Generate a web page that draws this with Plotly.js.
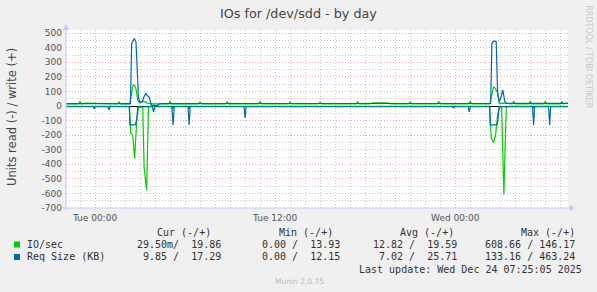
<!DOCTYPE html>
<html>
<head>
<meta charset="utf-8">
<script src="https://cdn.plot.ly/plotly-3.0.1.min.js"></script>
<style>
  html, body { margin: 0; padding: 0; background: #F0F0F0; }
  #chart { width: 597px; height: 292px; }
</style>
</head>
<body>
<div id="chart"></div>
<script>
// ---- Data (hours relative to Tue 2025-12-23 00:00, value) ----
const baseDate = Date.UTC(2025, 11, 23, 0, 0, 0);

const ioWrite = [ // IO/sec write (+), green
  [-1.93,15],[-1.1,15],[-1.0,30],[-0.9,15],[-0.6,20],[-0.1,20],[0.1,15],[1.5,15],[1.6,28],[1.7,15],
  [2.3,15],[2.38,50],[2.5,130],[2.58,146],[2.66,135],[2.75,110],[2.84,40],[3.0,20],[3.1,30],[3.35,30],
  [3.5,20],[3.8,15],[4.9,15],[5.0,32],[5.1,15],[6.9,15],[7.0,28],[7.1,15],[8.7,15],[8.8,28],[8.9,15],
  [10.9,15],[11.0,30],[11.1,15],[12.9,15],[13.0,28],[13.1,15],[14.9,15],[15.0,26],[15.1,15],
  [17.4,15],[17.5,28],[17.6,15],[18.3,15],[18.5,22],[19.5,22],[19.7,15],[20.9,15],[21.0,28],[21.1,15],
  [22.8,15],[22.9,30],[23.0,15],[24.9,15],[25.0,32],[25.1,15],[26.3,15],[26.4,60],[26.55,132],[26.62,128],
  [26.8,98],[26.93,15],[27.1,20],[27.8,15],[27.9,30],[28.0,15],[28.9,15],[29.0,30],[29.1,15],
  [29.9,15],[30.0,30],[30.1,15],[31.0,15],[31.1,30],[31.2,15],[31.51,20]
];

const ioRead = [ // IO/sec read (-), green
  [-1.93,-2],[2.29,-2],[2.38,-185],[2.51,-200],[2.64,-358],[2.78,-100],[2.89,-8],[3.18,-8],[3.27,-418],
  [3.44,-578],[3.56,-8],[3.7,-2],[5.1,-2],[5.2,-22],[5.3,-2],[6.2,-2],[6.27,-18],[6.35,-2],
  [26.29,-2],[26.4,-221],[26.56,-250],[26.69,-199],[26.82,-60],[26.96,-5],[27.09,-5],[27.24,-608],
  [27.4,-8],[27.6,-2],[29.15,-2],[29.22,-12],[29.3,-2],[31.51,-2]
];

const reqWrite = [ // Req Size (KB) write (+), blue
  [-1.93,16],[0.0,16],[1.0,17],[2.36,17],[2.44,430],[2.55,455],[2.62,463],[2.73,440],[2.89,64],
  [2.97,30],[3.15,28],[3.25,60],[3.38,87],[3.5,70],[3.62,60],[3.75,5],[4.2,5],[4.3,17],
  [12.0,17],[20.0,18],[26.36,18],[26.44,429],[26.55,445],[26.73,443],[26.82,98],[26.93,30],
  [27.05,60],[27.17,110],[27.3,30],[27.45,18],[31.51,18]
];

const reqRead = [ // Req Size (KB) read (-), blue
  [-1.93,-5],[-0.12,-5],[-0.05,-18],[0.02,-5],[0.85,-5],[0.93,-27],[1.0,-5],[2.28,-5],[2.33,-130],
  [2.67,-130],[2.78,-96],[2.85,-5],[3.82,-5],[3.9,-40],[3.98,-5],[5.12,-5],[5.2,-130],[5.28,-5],
  [6.2,-5],[6.27,-130],[6.34,-5],[9.93,-5],[10.0,-82],[10.07,-5],[23.83,-5],[23.89,-12],[23.95,-5],
  [24.87,-5],[24.93,-40],[25.0,-5],[26.29,-5],[26.33,-130],[26.78,-130],[26.85,-96],[26.92,-5],
  [29.15,-5],[29.22,-130],[29.29,-5],[30.22,-5],[30.29,-130],[30.36,-5],[31.51,-5]
];

const xTickHours = [0, 6, 12, 18, 24, 30];
const xTickText = ['Tue 00:00', '', 'Tue 12:00', '', 'Wed 00:00', ''];
const yTickVals = [500, 400, 300, 200, 100, 0, -100, -200, -300, -400, -500, -600, -700];
const yTickText = ['500', '400', '300', '200', '100', '0', '-100', '-200', '-300', '-400', '-500', '-600', '-700'];

const legendHeader = ['Cur (-/+)', 'Min (-/+)', 'Avg (-/+)', 'Max (-/+)'];
const legendSeries = ['IO/sec', 'Req Size (KB)'];
const legendColors = ['#00CC00', '#0066B3'];
const legendValues = [
  ['29.50m/  19.86', '0.00 /  13.93', '12.82 /  19.59', '608.66 / 146.17'],
  ['9.85 /  17.29', '0.00 /  12.15', '7.02 /  25.71', '133.16 / 463.24']
];
const lastUpdate = 'Last update: Wed Dec 24 07:25:05 2025';

// ---- helpers ----
function pad(n) { return (n < 10 ? '0' : '') + n; }
function hToDate(h) {
  const d = new Date(baseDate + h * 3600e3);
  return d.getUTCFullYear() + '-' + pad(d.getUTCMonth() + 1) + '-' + pad(d.getUTCDate()) + ' ' +
    pad(d.getUTCHours()) + ':' + pad(d.getUTCMinutes()) + ':' + pad(d.getUTCSeconds());
}
const nb = s => s.replace(/ /g, '\u00A0');

// plot geometry (pixels)
const W = 597, H = 292;
const PL = 66, PR = 567.7, PT = 30, PB = 208;
const px = x => (x - PL) / (PR - PL);
const py = y => (PB - y) / (PB - PT);

function trace(arr, color) {
  return {
    x: arr.map(p => hToDate(p[0])),
    y: arr.map(p => p[1]),
    type: 'scatter', mode: 'lines',
    line: { color: color, width: 1.2 },
    hoverinfo: 'skip', showlegend: false
  };
}

const data = [
  trace(ioRead, '#00CC00'),
  trace(ioWrite, '#00CC00'),
  trace(reqRead, '#0066B3'),
  trace(reqWrite, '#0066B3')
];

const minorX = [];
for (let h = -1; h <= 31; h++) if (h % 6 !== 0) minorX.push(hToDate(h));
const minorY = [];
for (let v = -650; v <= 500; v += 100) minorY.push(v);

const annotations = [];
const mono = { family: 'DejaVu Sans Mono', size: 10, color: '#333333' };
// title
annotations.push({ xref: 'paper', yref: 'paper', x: px(298.5), y: py(13.5), xanchor: 'center', yanchor: 'middle',
  text: 'IOs for /dev/sdd - by day', showarrow: false, font: { family: 'DejaVu Sans', size: 12.75, color: '#444444' } });
// y title
annotations.push({ xref: 'paper', yref: 'paper', x: px(12), y: py(117), xanchor: 'center', yanchor: 'middle',
  text: 'Units read (-) / write (+)', textangle: -90, showarrow: false,
  font: { family: 'DejaVu Sans', size: 11.5, color: '#444444' } });
// side text
annotations.push({ xref: 'paper', yref: 'paper', x: px(588), y: py(56.5), xanchor: 'center', yanchor: 'middle',
  text: 'RRDTOOL / TOBI OETIKER', textangle: 90, showarrow: false,
  font: { family: 'DejaVu Sans', size: 8, color: '#C8C8C8' } });
// legend header
const headerRight = [212, 334, 455, 576];
const valueRight = [222, 340.7, 458, 576];
legendHeader.forEach((t, i) => annotations.push({ xref: 'paper', yref: 'paper', x: px(headerRight[i]), y: py(232.7),
  xanchor: 'right', yanchor: 'middle', text: nb(t), showarrow: false, font: mono, borderpad: 0 }));
legendSeries.forEach((name, r) => {
  const yy = [244.3, 256.7][r];
  annotations.push({ xref: 'paper', yref: 'paper', x: px(26.5), y: py(yy), xanchor: 'left', yanchor: 'middle',
    text: nb(name), showarrow: false, font: mono, borderpad: 0 });
  legendValues[r].forEach((v, i) => annotations.push({ xref: 'paper', yref: 'paper', x: px(valueRight[i]), y: py(yy),
    xanchor: 'right', yanchor: 'middle', text: nb(v), showarrow: false, font: mono, borderpad: 0 }));
});
annotations.push({ xref: 'paper', yref: 'paper', x: px(582.7), y: py(269), xanchor: 'right', yanchor: 'middle',
  text: nb(lastUpdate), showarrow: false, font: mono, borderpad: 0 });
annotations.push({ xref: 'paper', yref: 'paper', x: px(299), y: py(281), xanchor: 'center', yanchor: 'middle',
  text: 'Munin 2.0.75', showarrow: false, font: { family: 'DejaVu Sans', size: 7.5, color: '#BBBBBB' }, borderpad: 0 });

const axisCol = '#C8C8F4';
const shapes = [
  // legend squares
  { type: 'rect', xref: 'paper', yref: 'paper', x0: px(14), x1: px(20), y0: py(241.5), y1: py(247.5),
    fillcolor: legendColors[0], line: { width: 0 } },
  { type: 'rect', xref: 'paper', yref: 'paper', x0: px(14), x1: px(20), y0: py(254), y1: py(260),
    fillcolor: legendColors[1], line: { width: 0 } },
  // axis lines
  { type: 'line', xref: 'paper', yref: 'paper', x0: px(PL), x1: px(PL), y0: py(211), y1: py(27),
    line: { color: axisCol, width: 1 } },
  { type: 'line', xref: 'paper', yref: 'paper', x0: px(62), x1: px(570), y0: py(PB), y1: py(PB),
    line: { color: axisCol, width: 1 } },
  // arrows
  { type: 'path', xref: 'paper', yref: 'paper',
    path: `M ${px(63)} ${py(30)} L ${px(69)} ${py(30)} L ${px(66)} ${py(24)} Z`,
    fillcolor: '#C0C8F8', line: { width: 0 } },
  { type: 'path', xref: 'paper', yref: 'paper',
    path: `M ${px(569)} ${py(205)} L ${px(569)} ${py(211)} L ${px(575)} ${py(208)} Z`,
    fillcolor: '#C0C8F8', line: { width: 0 } }
];

const layout = {
  width: W, height: H,
  margin: { l: PL, r: W - PR, t: PT, b: H - PB, pad: 0 },
  paper_bgcolor: '#F0F0F0', plot_bgcolor: '#FFFFFF',
  font: { family: 'DejaVu Sans', size: 9, color: '#555555' },
  showlegend: false,
  xaxis: {
    type: 'date',
    range: [hToDate(-1.933), hToDate(31.513)],
    tickmode: 'array', tickvals: xTickHours.map(hToDate), ticktext: xTickText,
    showgrid: true, gridcolor: 'rgba(240,130,130,0.7)', griddash: '1px,2px', gridwidth: 1,
    minor: { tickmode: 'array', tickvals: minorX, showgrid: true, gridcolor: '#C8C8C8', griddash: '1px,2px', gridwidth: 1, ticks: '' },
    ticks: '', showline: false, zeroline: false, ticklabelstandoff: 3,
    tickfont: { family: 'DejaVu Sans', size: 9, color: '#555555' }
  },
  yaxis: {
    range: [-700, 522],
    tickmode: 'array', tickvals: yTickVals, ticktext: yTickText,
    showgrid: true, gridcolor: 'rgba(240,130,130,0.7)', griddash: '1px,2px', gridwidth: 1,
    minor: { tickmode: 'array', tickvals: minorY, showgrid: true, gridcolor: '#C8C8C8', griddash: '1px,2px', gridwidth: 1, ticks: '' },
    ticks: '', showline: false, ticklabelstandoff: 3,
    zeroline: true, zerolinecolor: '#000000', zerolinewidth: 1,
    tickfont: { family: 'DejaVu Sans', size: 9, color: '#555555' }
  },
  annotations: annotations,
  shapes: shapes
};

Plotly.newPlot('chart', data, layout, { staticPlot: true, displayModeBar: false });
</script>
</body>
</html>
